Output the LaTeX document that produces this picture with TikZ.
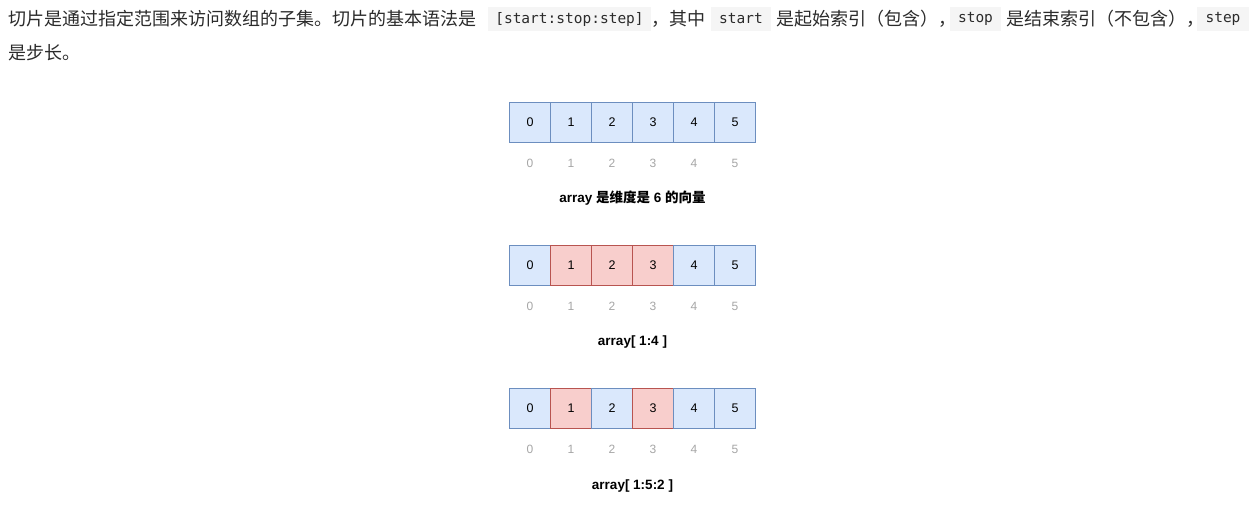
\documentclass[tikz,border=0pt]{standalone}
\usepackage{fontspec}
\setmainfont{Liberation Sans}
\newfontfamily\cjk{Noto Sans CJK SC}
\newfontfamily\codefont{DejaVu Sans Mono}
\definecolor{bluefill}{HTML}{DAE8FC}
\definecolor{bluedraw}{HTML}{6C8EBF}
\definecolor{redfill}{HTML}{F8CECC}
\definecolor{reddraw}{HTML}{B85450}
\definecolor{idxgray}{HTML}{A6A6A6}
\definecolor{codebg}{HTML}{F5F5F5}
\definecolor{bodytext}{HTML}{2B2B2B}
\tikzset{
  cellblue/.style={draw=bluedraw, fill=bluefill, line width=0.9pt, minimum width=41pt, minimum height=40pt, inner sep=0pt, font=\fontsize{12.5}{12.5}\selectfont},
  cellred/.style={cellblue, draw=reddraw, fill=redfill},
  idx/.style={text=idxgray, inner sep=0pt, font=\fontsize{12}{12}\selectfont},
  captext/.style={inner sep=0pt, font=\bfseries\fontsize{13.5}{13.5}\selectfont},
  body/.style={text=bodytext, inner sep=0pt, anchor=west, font=\cjk\fontsize{18}{18}\selectfont},
  codebox/.style={fill=codebg, text=bodytext, inner sep=0pt, minimum height=24pt, font=\codefont\fontsize{14.5}{14.5}\selectfont},
}
\begin{document}
\begin{tikzpicture}[x=1pt,y=-1pt]
\useasboundingbox[fill=white] (0,0) rectangle (1256,504);
% text
\node[body] (t1) at (8,19) {切片是通过指定范围来访问数组的子集。切片的基本语法是};
\node[codebox, minimum width=163pt] (c1) at (569.5,19) {[start:stop:step]};
\node[body] (t2) at (651,19) {，其中};
\node[codebox, minimum width=60pt] (c2) at (741,19) {start};
\node[body] (t3) at (776,19) {是起始索引（包含），};
\node[codebox, minimum width=51pt] (c3) at (975.5,19) {stop};
\node[body] (t4) at (1006,19) {是结束索引（不包含），};
\node[codebox, minimum width=52pt] (c4) at (1223,19) {step};
\node[body] (t5) at (8,53) {是步长。};
% arrays
\foreach \i in {0,...,5}{
  \node[cellblue] (a\i) at (530+41*\i,122) {\i};
  \node[idx] (ai\i) at (530+41*\i,163) {\i};
}
\node[captext] (acap) at (632.5,198.5) {array {\cjk 是维度是} 6 {\cjk 的向量}};
\foreach \i/\s in {0/cellblue,1/cellred,2/cellred,3/cellred,4/cellblue,5/cellblue}{
  \node[\s] (b\i) at (530+41*\i,265) {\i};
  \node[idx] (bi\i) at (530+41*\i,306) {\i};
}
\node[captext] (bcap) at (632.5,342) {array[ 1:4 ]};
\foreach \i/\s in {0/cellblue,1/cellred,2/cellblue,3/cellred,4/cellblue,5/cellblue}{
  \node[\s] (d\i) at (530+41*\i,408) {\i};
  \node[idx] (di\i) at (530+41*\i,449) {\i};
}
\node[captext] (dcap) at (632.5,486) {array[ 1:5:2 ]};
\end{tikzpicture}
\end{document}
